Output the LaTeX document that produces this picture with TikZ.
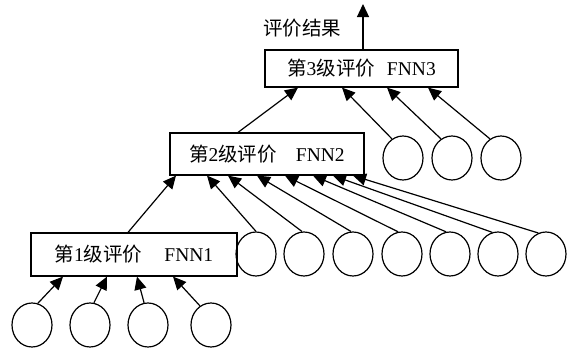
\documentclass[tikz,border=0pt]{standalone}
\usepackage{fontspec}
\setmainfont{Liberation Serif}
\newfontfamily\cjk{Noto Sans CJK SC}
\usetikzlibrary{arrows.meta,shapes.geometric}
\begin{document}
\begin{tikzpicture}[x=1pt,y=-1pt,line width=1.2pt,
  box/.style={draw,rectangle,inner sep=0pt,font=\fontsize{19.5}{19.5}\selectfont},
  inp/.style={draw,ellipse,minimum width=40pt,minimum height=44pt,inner sep=0pt},
  arr/.style={-{Triangle[length=13pt,width=12pt]}},
  lbl/.style={font=\fontsize{19.5}{19.5}\selectfont,inner sep=0pt}]
\useasboundingbox (0,0) rectangle (567,348);
% boxes
\node[box,minimum width=193pt,minimum height=37pt] (b3) at (361.5,68.5) {{\cjk 第}3{\cjk 级评价}\hspace{12pt}FNN3};
\node[box,minimum width=194pt,minimum height=42pt] (b2) at (267,154) {{\cjk 第}2{\cjk 级评价}\hspace{19pt}FNN2\hspace{4pt}};
\node[box,minimum width=206pt,minimum height=43pt] (b1) at (134,254.5) {{\cjk 第}1{\cjk 级评价}\hspace{22pt}FNN1\hspace{18pt}};
% output
\coordinate (out) at (363,4);
\node[lbl] (lab) at (302,28) {\cjk 评价结果};
\draw[arr] (363,0 |- b3.north) -- (out);
% level 3 inputs
\node[inp] (d1) at (403,158) {};
\node[inp] (d2) at (452,158) {};
\node[inp] (d3) at (501,158) {};
% level 2 inputs
\node[inp] (e1) at (256,254) {};
\node[inp] (e2) at (304,254) {};
\node[inp] (e3) at (353,254) {};
\node[inp] (e4) at (402,254) {};
\node[inp] (e5) at (450,254) {};
\node[inp] (e6) at (498,254) {};
\node[inp] (e7) at (546,254) {};
% level 1 inputs
\node[inp] (c1) at (32,325) {};
\node[inp] (c2) at (90,325) {};
\node[inp] (c3) at (148,325) {};
\node[inp] (c4) at (211,325) {};
% connectors to FNN1
\draw[arr] (c1.75) -- (63,0 |- b1.south);
\draw[arr] (c2.80) -- (107,0 |- b1.south);
\draw[arr] (c3.100) -- (137,0 |- b1.south);
\draw[arr] (c4.120) -- (173,0 |- b1.south);
% connectors to FNN2
\draw[arr] (128,0 |- b1.north) -- (176,0 |- b2.south);
\draw[arr] (e1.north) -- (207,0 |- b2.south);
\draw[arr] (e2.95) -- (228,0 |- b2.south);
\draw[arr] (e3.95) -- (257,0 |- b2.south);
\draw[arr] (e4.100) -- (285,0 |- b2.south);
\draw[arr] (e5.100) -- (313,0 |- b2.south);
\draw[arr] (e6.105) -- (333,0 |- b2.south);
\draw[arr] (e7.110) -- (353,0 |- b2.south);
% connectors to FNN3
\draw[arr] (238,0 |- b2.north) -- (298,0 |- b3.south);
\draw[arr] (d1.120) -- (342,0 |- b3.south);
\draw[arr] (d2.120) -- (387,0 |- b3.south);
\draw[arr] (d3.120) -- (428,0 |- b3.south);
\end{tikzpicture}
\end{document}
